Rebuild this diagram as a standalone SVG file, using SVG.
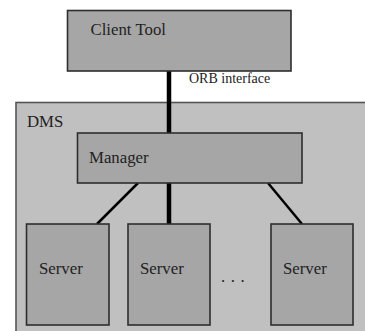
<svg xmlns="http://www.w3.org/2000/svg" width="365" height="331" viewBox="0 0 365 331">
  <style>
    .box { fill: #a6a6a6; stroke: #2e2e2e; stroke-width: 1.6; }
    .label { font-family: 'Liberation Serif', 'DejaVu Serif', 'Noto Serif', serif; font-size: 16.8px; fill: #222; }
    .small { font-size: 14px; }
    .link { stroke: #000; fill: none; }
  </style>
  <rect width="365" height="331" fill="#ffffff"/>

  <!-- DMS container -->
  <g id="dms">
    <rect x="16" y="102.5" width="360" height="240" fill="#c0c0c0" stroke="#555" stroke-width="1.6"/>
    <text class="label" x="27" y="126.5">DMS</text>
  </g>

  <!-- connectors -->
  <g id="connectors">
    <line class="link" x1="169" y1="71" x2="169" y2="133" stroke-width="4.5"/>
    <line class="link" x1="169" y1="183" x2="169" y2="224" stroke-width="4.5"/>
    <line class="link" x1="138" y1="183" x2="97" y2="224" stroke-width="2.5"/>
    <line class="link" x1="268" y1="183" x2="302" y2="224" stroke-width="2.5"/>
    <text class="label small" x="189" y="83">ORB interface</text>
  </g>

  <g id="client-tool">
    <rect class="box" x="67.5" y="10.5" width="223.5" height="60.5"/>
    <text class="label" x="90.5" y="35">Client Tool</text>
  </g>

  <g id="manager">
    <rect class="box" x="77.5" y="133" width="224.5" height="50"/>
    <text class="label" x="89" y="162.5">Manager</text>
  </g>

  <g id="server-1">
    <rect class="box" x="26.5" y="224" width="82.5" height="101"/>
    <text class="label" x="39" y="274">Server</text>
  </g>

  <g id="server-2">
    <rect class="box" x="128" y="224" width="82" height="101"/>
    <text class="label" x="140" y="274">Server</text>
  </g>

  <g id="ellipsis">
    <text class="label" x="221" y="282" letter-spacing="5.6">...</text>
  </g>

  <g id="server-3">
    <rect class="box" x="271" y="224" width="82" height="101"/>
    <text class="label" x="283" y="274">Server</text>
  </g>
</svg>
